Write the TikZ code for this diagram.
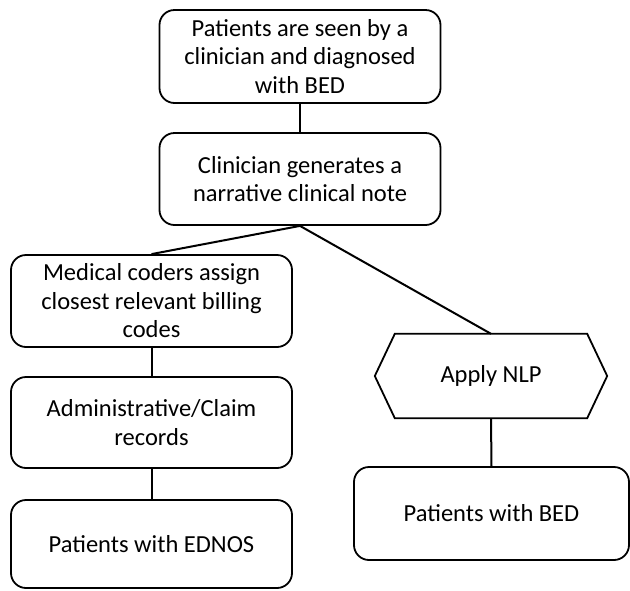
\documentclass[tikz,border=0pt]{standalone}
\usepackage{fontspec}
\setmainfont{Carlito}
\begin{document}
\begin{tikzpicture}[x=1pt,y=-1pt,
  box/.style={draw, line width=1.8pt, rounded corners=15pt, align=center,
    minimum width=281pt, font=\fontsize{24.5}{28.5}\selectfont, inner sep=0pt},
  link/.style={line width=2pt}]
\useasboundingbox (0,0) rectangle (630,590);
\node[box, minimum height=93pt] (a) at (300,56.5) {Patients are seen by a\\clinician and diagnosed\\with BED};
\node[box, minimum height=92pt] (b) at (300,179) {Clinician generates a\\narrative clinical note};
\node[box, minimum height=92pt] (c) at (151.5,301) {Medical coders assign\\closest relevant billing\\codes};
\node[box, minimum height=91pt] (d) at (151.5,422.5) {Administrative/Claim\\records};
\node[box, minimum height=88pt] (e) at (151.5,544) {Patients with EDNOS};
\node[draw=none, minimum width=232pt, minimum height=84pt, inner sep=0pt,
  font=\fontsize{24.5}{28.5}\selectfont] (h) at (491,376) {Apply NLP};
\draw[line width=1.8pt, line join=miter] ([xshift=20pt]h.north west) -- ([xshift=-20pt]h.north east) -- (h.east)
  -- ([xshift=-20pt]h.south east) -- ([xshift=20pt]h.south west) -- (h.west) -- cycle;
\node[box, minimum width=275pt, minimum height=93pt] (f) at (491.5,513.5) {Patients with BED};
\draw[link] (a.south) -- (b.north);
\draw[link] (b.south) -- (c.north);
\draw[link] (b.south) -- (h.north);
\draw[link] (c.south) -- (d.north);
\draw[link] (d.south) -- (e.north);
\draw[link] (h.south) -- (f.north);
\end{tikzpicture}
\end{document}
